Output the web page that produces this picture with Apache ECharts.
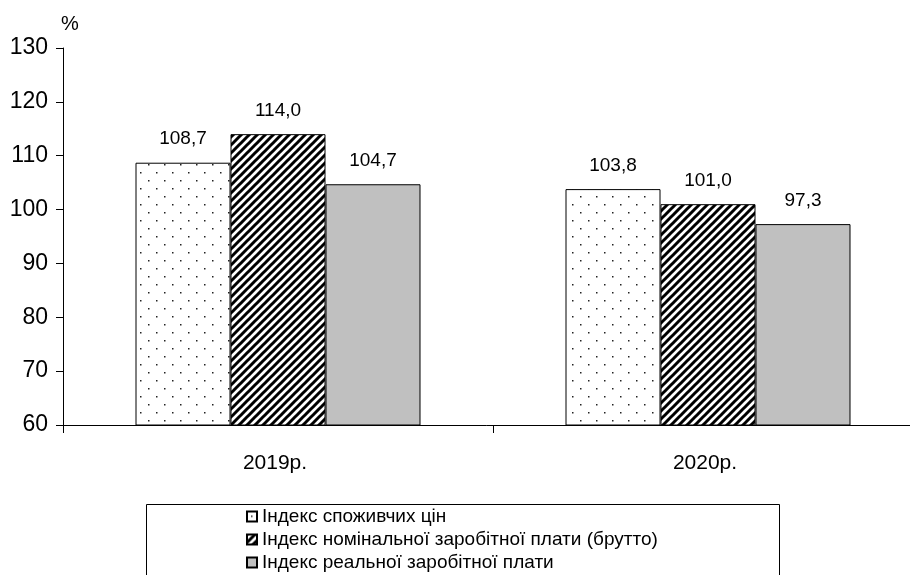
<!DOCTYPE html>
<html>
<head>
<meta charset="utf-8">
<script src="https://cdn.jsdelivr.net/npm/echarts@6/dist/echarts.min.js"></script>
<style>html,body{margin:0;padding:0;background:#fff;}#c{width:910px;height:575px;}</style>
</head>
<body>
<div id="c"></div>
<script>
const categories = ['2019р.', '2020р.'];
const seriesNames = ['Індекс споживчих цін', 'Індекс номінальної заробітної плати (брутто)', 'Індекс реальної заробітної плати'];
const cpiValues = [108.7, 103.8];
const nominalValues = [114.0, 101.0];
const realValues = [104.7, 97.3];
const yTicks = [60, 70, 80, 90, 100, 110, 120, 130];

function dotPattern() {
  const c = document.createElement('canvas');
  c.width = 16; c.height = 16;
  const g = c.getContext('2d');
  g.fillStyle = '#fff'; g.fillRect(0, 0, 16, 16);
  g.fillStyle = '#222';
  g.fillRect(4, 4, 1.5, 1.5);
  g.fillRect(12, 12, 1.5, 1.5);
  return c;
}
function hatchPattern() {
  const s = 8;
  const c = document.createElement('canvas');
  c.width = s; c.height = s;
  const g = c.getContext('2d');
  g.fillStyle = '#fff'; g.fillRect(0, 0, s, s);
  g.strokeStyle = '#000'; g.lineWidth = 3;
  g.beginPath();
  g.moveTo(0, s); g.lineTo(s, 0);
  g.moveTo(-2, 2); g.lineTo(2, -2);
  g.moveTo(s - 2, s + 2); g.lineTo(s + 2, s - 2);
  g.stroke();
  return c;
}
const fmt = p => p.value.toFixed(1).replace('.', ',');
const FONT = 'Liberation Sans, Arial, sans-serif';
const fills = [
  { image: dotPattern(), repeat: 'repeat' },
  { image: hatchPattern(), repeat: 'repeat' },
  '#c0c0c0'
];
const dataSets = [cpiValues, nominalValues, realValues];

const chart = echarts.init(document.getElementById('c'));
chart.setOption({
  animation: false,
  backgroundColor: '#fff',
  title: { text: '%', left: 56, top: 9, textStyle: { fontFamily: FONT, fontSize: 20, fontWeight: 'normal', color: '#000' } },
  grid: { left: 63, width: 860, top: 48, bottom: 150, containLabel: false, outerBoundsMode: 'none' },
  graphic: [{
    type: 'rect', left: 144, top: 502,
    shape: { width: 633, height: 100 },
    style: { fill: 'none', stroke: '#000', lineWidth: 1 }
  }],
  legend: {
    orient: 'vertical', left: 246, top: 507, height: 80,
    padding: 0, itemGap: 4, itemWidth: 10, itemHeight: 10,
    icon: 'rect',
    textStyle: { fontFamily: FONT, fontSize: 19, color: '#000' },
    data: seriesNames
  },
  xAxis: {
    type: 'category', data: categories,
    axisLine: { lineStyle: { color: '#000', width: 1 } },
    axisTick: { show: true, length: 8, lineStyle: { color: '#000' } },
    axisLabel: { margin: 28, padding: [0, 6, 0, 0], fontFamily: FONT, fontSize: 21, color: '#000' }
  },
  yAxis: {
    type: 'value', min: yTicks[0], max: yTicks[yTicks.length - 1], interval: 10,
    splitLine: { show: false },
    axisLine: { show: true, lineStyle: { color: '#000', width: 1 } },
    axisTick: { show: true, length: 7, lineStyle: { color: '#000' } },
    axisLabel: { margin: 15, fontFamily: FONT, fontSize: 23, color: '#000' }
  },
  series: seriesNames.map((n, i) => ({
    name: n, type: 'bar', data: dataSets[i],
    barWidth: 95, barGap: '0%',
    itemStyle: { color: fills[i], borderColor: '#000', borderWidth: 1 },
    label: { show: true, position: 'top', distance: 14, formatter: fmt, fontFamily: FONT, fontSize: 19, color: '#000' }
  }))
});
</script>
</body>
</html>
